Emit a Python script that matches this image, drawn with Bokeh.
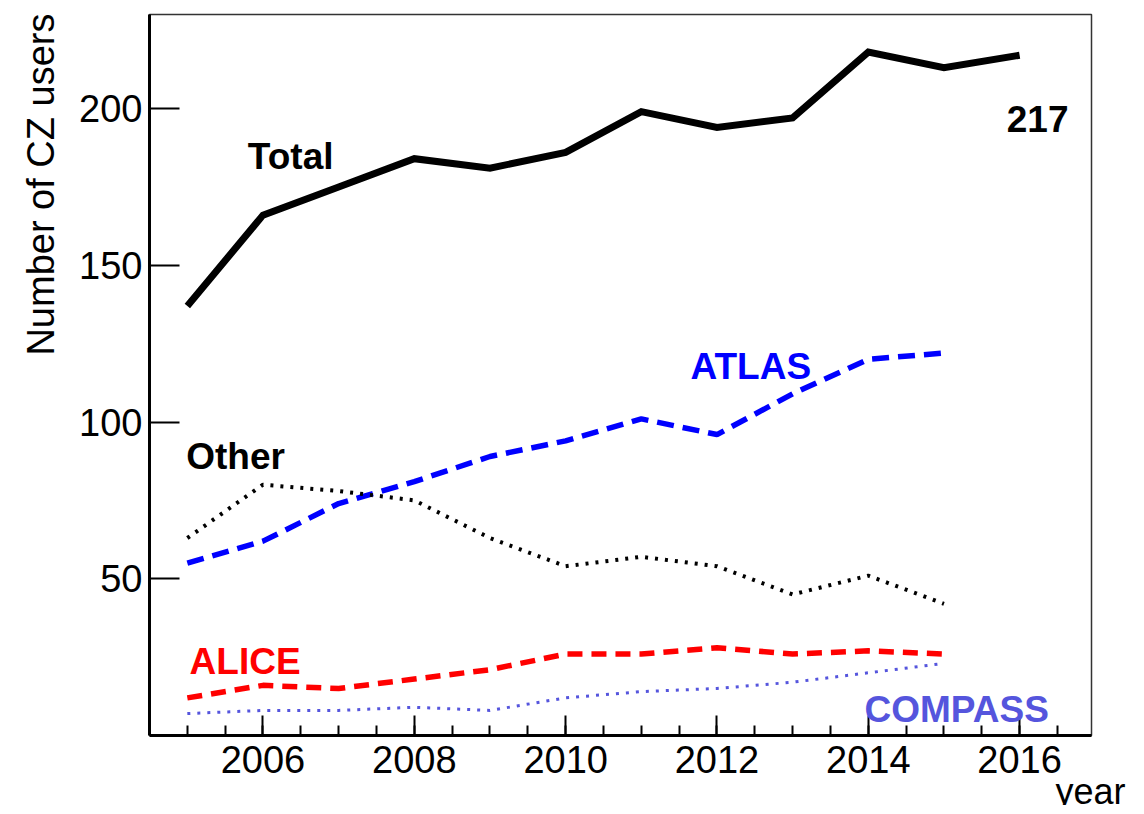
import numpy as np
from bokeh.plotting import figure
from bokeh.models import FixedTicker, Label, Range1d, Title
from bokeh.embed import file_html
from bokeh.resources import INLINE

# ---- data ----
years_total = [2005, 2006, 2007, 2008, 2009, 2010, 2011, 2012, 2013, 2014, 2015, 2016]
total = [137, 166, 175, 184, 181, 186, 199, 194, 197, 218, 213, 217]

years = [2005, 2006, 2007, 2008, 2009, 2010, 2011, 2012, 2013, 2014, 2015]
atlas = [55, 62, 74, 81, 89, 94, 101, 96, 109, 120, 122]
other = [63, 80, 78, 75, 63, 54, 57, 54, 45, 51, 42]
alice = [12, 16, 15, 18, 21, 26, 26, 28, 26, 27, 26]
compass = [7, 8, 8, 9, 8, 12, 14, 15, 17, 20, 23]

x_major_ticks = [2006, 2008, 2010, 2012, 2014, 2016]
y_major_ticks = [50, 100, 150, 200]

FONT = "Liberation Sans"
COMPASS_COLOR = "#5555dd"

p = figure(frame_width=942, frame_height=721,
           min_border_left=149, min_border_right=39,
           min_border_top=14, min_border_bottom=10,
           x_range=Range1d(2004.5, 2016.95), y_range=Range1d(0, 230),
           output_backend="svg", toolbar_location=None, tools="")

p.background_fill_color = "white"
p.border_fill_color = "white"
p.grid.visible = False
p.outline_line_color = "#333333"
p.outline_line_width = 1.5

# x axis
xa = p.xaxis[0]
xa.ticker = FixedTicker(ticks=x_major_ticks,
                        minor_ticks=list(np.arange(2005.0, 2016.6, 0.5)))
xa.axis_line_width = 3
xa.major_tick_in = 20
xa.major_tick_out = 0
xa.minor_tick_in = 10
xa.minor_tick_out = 0
xa.major_tick_line_width = 2
xa.minor_tick_line_width = 2
xa.major_label_text_font = FONT
xa.major_label_text_font_size = "38px"
xa.major_label_text_color = "black"
xa.major_label_standoff = 10

# y axis
ya = p.yaxis[0]
ya.ticker = FixedTicker(ticks=y_major_ticks, minor_ticks=[])
ya.axis_line_width = 3
ya.major_tick_in = 30
ya.major_tick_out = 0
ya.minor_tick_in = 0
ya.minor_tick_out = 0
ya.major_tick_line_width = 2
ya.major_label_text_font = FONT
ya.major_label_text_font_size = "38px"
ya.major_label_text_color = "black"
ya.major_label_standoff = 7

# ---- series ----
p.line(years_total, total, line_color="black", line_width=7, line_join="miter")
p.line(years, atlas, line_color="#0000ff", line_width=5.5, line_dash="17 9")
p.line(years, other, line_color="black", line_width=4, line_dash="3 7")
p.line(years, alice, line_color="#ff0000", line_width=5.5, line_dash="15 9")
p.line(years, compass, line_color=COMPASS_COLOR, line_width=3, line_dash="3 7")

# ---- in-plot labels ----
labels = [
    ("Total", 2005.80, 184.7, "black"),
    ("217", 2015.83, 196.8, "black"),
    ("ATLAS", 2011.65, 117.8, "#0000ff"),
    ("Other", 2004.985, 89.0, "black"),
    ("ALICE", 2005.03, 23.7, "#ff0000"),
    ("COMPASS", 2013.95, 8.3, COMPASS_COLOR),
]
for txt, lx, ly, col in labels:
    p.add_layout(Label(x=lx, y=ly, text=txt, text_color=col,
                       text_font=FONT, text_font_size="37px",
                       text_font_style="bold", text_align="left",
                       text_baseline="alphabetic"))

# axis titles (as side titles so they can be right-aligned like ROOT)
p.add_layout(Title(text="Number of CZ users", align="right",
                   text_font=FONT, text_font_size="38px",
                   text_font_style="normal", text_color="black",
                   standoff=29, offset=-1), "left")
p.add_layout(Title(text="year", align="right",
                   text_font=FONT, text_font_size="36px",
                   text_font_style="normal", text_color="black",
                   standoff=-13, offset=-34), "below")

open("out.html", "w").write(file_html(p, INLINE))
